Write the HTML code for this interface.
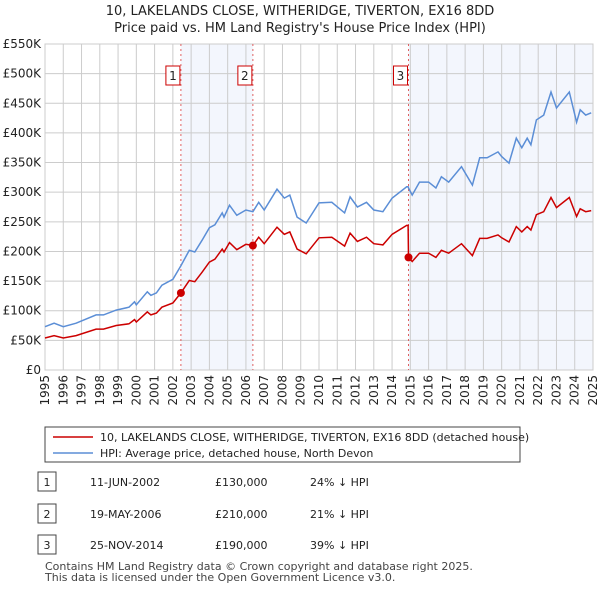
<!DOCTYPE html>
<html><head><meta charset="utf-8"><style>
body{margin:0;background:#fff;font-family:"DejaVu Sans","Liberation Sans",sans-serif;}
#wrap{position:relative;width:600px;height:590px;overflow:hidden}
svg text{font-family:"DejaVu Sans","Liberation Sans",sans-serif;}
</style></head><body><div id="wrap">
<svg id="c" width="600" height="590" style="position:absolute;left:0;top:0"></svg>
</div>
<script>
const years=[1995.0,1995.5,1996.0,1996.7,1997.8,1998.2,1998.9,1999.6,1999.9,2000.0,2000.6,2000.8,2001.1,2001.4,2002.0,2002.44,2002.9,2003.2,2003.6,2004.0,2004.3,2004.7,2004.8,2005.1,2005.5,2006.0,2006.38,2006.7,2007.0,2007.7,2008.1,2008.4,2008.8,2009.3,2010.0,2010.7,2011.4,2011.7,2012.1,2012.6,2013.0,2013.5,2014.0,2014.8,2014.88,2014.9,2015.1,2015.5,2016.0,2016.4,2016.7,2017.1,2017.8,2018.4,2018.8,2019.2,2019.8,2020.0,2020.4,2020.8,2021.1,2021.4,2021.6,2021.9,2022.3,2022.7,2023.0,2023.7,2024.1,2024.3,2024.6,2024.9];
const hpi=[73,79,73,79,93,93,101,106,115,110,132,126,130,143,153,176,202,199,219,240,245,265,258,278,261,270,267,283,270,305,290,295,258,248,282,283,265,292,275,283,270,267,290,309,309,307,295,317,317,307,326,317,343,312,358,358,368,360,349,391,375,391,380,422,430,469,442,469,418,439,430,434];
const paid=[54,58,54,58,69,69,75,78,85,81,98,93,96,106,113,130,151,149,165,182,187,204,199,215,203,212,210,224,213,241,229,233,204,196,223,224,209,231,217,224,213,211,229,244,244,190,183,197,197,190,202,197,213,193,222,222,228,223,216,242,233,242,236,262,267,291,274,291,259,272,267,269];
const saleYears=[2002.44,2006.38,2014.9];
const salePrices=[130,210,190];
const saleLabels=["1","2","3"];
const yTicks=[0,50,100,150,200,250,300,350,400,450,500,550];
const xTicks=[1995,1996,1997,1998,1999,2000,2001,2002,2003,2004,2005,2006,2007,2008,2009,2010,2011,2012,2013,2014,2015,2016,2017,2018,2019,2020,2021,2022,2023,2024,2025];

const L=45,R=593,T=44,B=370;
const X=y=>L+(y-1995)/30*(R-L);
const Y=v=>B-v/550*(B-T);
const svg=document.getElementById('c');
const NS='http://www.w3.org/2000/svg';
function mk(tag,at,parent){const e=document.createElementNS(NS,tag);for(const k in at)e.setAttribute(k,at[k]);(parent||svg).appendChild(e);return e;}
let e;
e=mk('rect',{x:X(saleYears[0]),y:T,width:X(saleYears[1])-X(saleYears[0]),height:B-T,fill:'#eef2fc',opacity:0.7});


e=mk('rect',{x:X(saleYears[2]),y:T,width:R-X(saleYears[2]),height:B-T,fill:'#eef2fc',opacity:0.7});


yTicks.forEach(v=>{
 e=mk('line',{x1:L,x2:R,y1:Y(v),y2:Y(v),stroke:'#ccc','stroke-width':1});
 
 
 e=mk('text',{x:L-4,y:Y(v)+4,'text-anchor':'end','font-size':12,fill:'#222'});
 e.textContent=v===0?'£0':'£'+v+'K';
 
 
});
xTicks.forEach(v=>{
 e=mk('line',{x1:X(v),x2:X(v),y1:T,y2:B,stroke:'#ccc','stroke-width':1});
 
 
 e=mk('text',{x:X(v),y:B+5,'font-size':12,fill:'#222','text-anchor':'end',transform:`rotate(-90 ${X(v)} ${B+5})`,dy:4});
 e.textContent=v;
 
 
});
e=mk('rect',{x:L,y:T,width:R-L,height:B-T,fill:'none',stroke:'#ccc'});


saleYears.forEach((s,i)=>{
 e=mk('line',{x1:X(s),x2:X(s),y1:T,y2:B,stroke:'#e06060','stroke-dasharray':'2,3','stroke-width':1});
 
 
 const g=mk('g',{});
 
 
 mk('rect',{x:X(s)-15,y:66,width:14,height:19,fill:'#fff',stroke:'#c00'},g);
 const t=mk('text',{x:X(s)-8,y:80,'text-anchor':'middle','font-size':12,fill:'#222'},g);t.textContent=saleLabels[i];
});
const pts=a=>a.map((v,i)=>X(years[i]).toFixed(1)+','+Y(v).toFixed(1)).join(' ');
e=mk('polyline',{points:pts(hpi),fill:'none',stroke:'#5b8ed6','stroke-width':1.5});


e=mk('polyline',{points:pts(paid),fill:'none',stroke:'#cc0000','stroke-width':1.5});


saleYears.forEach((s,i)=>{
 e=mk('circle',{cx:X(s),cy:Y(salePrices[i]),r:4,fill:'#cc0000'});
 
 
});
[['10, LAKELANDS CLOSE, WITHERIDGE, TIVERTON, EX16 8DD',15],["Price paid vs. HM Land Registry's House Price Index (HPI)",32]].forEach(([s,y])=>{
 e=mk('text',{x:300,y:y,'text-anchor':'middle','font-size':13,fill:'#222'});e.textContent=s;
 
 
});
const lg=mk('g',{});


mk('rect',{x:45,y:427,width:475,height:35,fill:'#fff',stroke:'#444'},lg);
mk('line',{x1:53,x2:93,y1:437,y2:437,stroke:'#cc0000','stroke-width':1.5},lg);
mk('line',{x1:53,x2:93,y1:453,y2:453,stroke:'#5b8ed6','stroke-width':1.5},lg);
let t=mk('text',{x:100,y:441,'font-size':11,fill:'#222'},lg);t.textContent='10, LAKELANDS CLOSE, WITHERIDGE, TIVERTON, EX16 8DD (detached house)';
t=mk('text',{x:100,y:457,'font-size':11,fill:'#222'},lg);t.textContent='HPI: Average price, detached house, North Devon';
const rowsD=['11-JUN-2002','19-MAY-2006','25-NOV-2014'];
const rowsP=['£130,000','£210,000','£190,000'];
const rowsH=['24% ↓ HPI','21% ↓ HPI','39% ↓ HPI'];
[482,514,545].forEach((y,i)=>{
 const g=mk('g',{});
 
 
 mk('rect',{x:38,y:y-10,width:18,height:19,fill:'#fff',stroke:'#444'},g);
 let tt=mk('text',{x:47,y:y+4,'text-anchor':'middle','font-size':11,fill:'#222'},g);tt.textContent=i+1;
 tt=mk('text',{x:90,y:y+4,'font-size':11,fill:'#222'},g);tt.textContent=rowsD[i];
 tt=mk('text',{x:215,y:y+4,'font-size':11,fill:'#222'},g);tt.textContent=rowsP[i];
 tt=mk('text',{x:310,y:y+4,'font-size':11,fill:'#222'},g);tt.textContent=rowsH[i];
});
[['Contains HM Land Registry data © Crown copyright and database right 2025.',570],['This data is licensed under the Open Government Licence v3.0.',581]].forEach(([s,y])=>{
 e=mk('text',{x:45,y:y,'font-size':11,fill:'#444'});e.textContent=s;
 
 
});
</script></body></html>
